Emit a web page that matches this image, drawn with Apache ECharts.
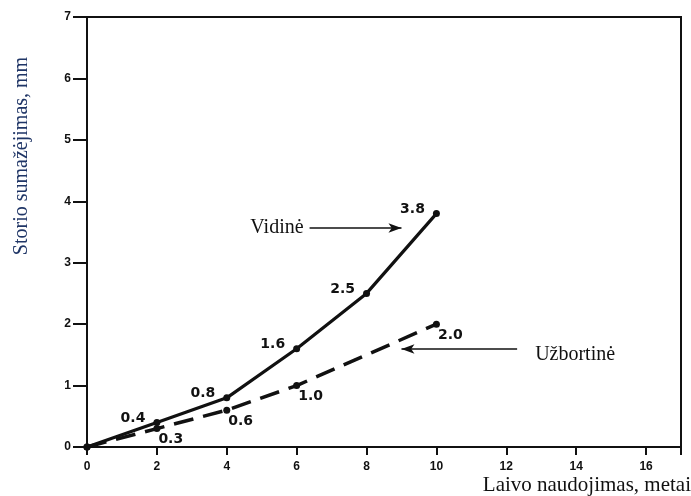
<!DOCTYPE html>
<html>
<head>
<meta charset="utf-8">
<script src="https://cdn.jsdelivr.net/npm/echarts@6/dist/echarts.min.js"></script>
<style>
  html, body { margin: 0; padding: 0; background: #fff; }
  #chart { width: 691px; height: 496px; }
</style>
</head>
<body>
<div id="chart"></div>
<script>
// Wall thickness loss over years of ship service
const years = [0, 2, 4, 6, 8, 10];
const vidine = [0, 0.4, 0.8, 1.6, 2.5, 3.8];            // inner side
const uzbortYears = [0, 2, 4, 6, 10];
const uzbortine = [0, 0.3, 0.6, 1.0, 2.0];             // outboard side

const xAxisTitle = 'Laivo naudojimas, metai';
const yAxisTitle = 'Storio sumažėjimas, mm';
const nameVidine = 'Vidinė';
const nameUzbortine = 'Užbortinė';

// Pointer arrows next to the curve names (in axis units)
const arrowVidine = [[6.37, 3.565], [9.0, 3.565]];
const arrowUzbortine = [[12.31, 1.595], [9.0, 1.595]];

const pairs = (xs, ys) => xs.map((x, i) => [x, ys[i]]);
const valueLabel = p => (p.value[1] === 0 ? '' : p.value[1].toFixed(1));

const labelFont = {
  fontFamily: 'DejaVu Sans',
  fontWeight: 'bold',
  fontSize: 14,
  color: '#111'
};
const tickFont = {
  fontFamily: 'Liberation Sans',
  fontWeight: 'bold',
  fontSize: 12,
  color: '#111'
};
const nameFont = {
  fontFamily: 'Liberation Serif',
  fontSize: 20,
  color: '#111'
};

const chart = echarts.init(document.getElementById('chart'), null, { renderer: 'canvas' });

chart.setOption({
  animation: false,
  backgroundColor: '#fff',
  grid: {
    left: 87, right: 10, top: 17, bottom: 49,
    show: true, borderColor: '#111', borderWidth: 2, backgroundColor: 'transparent'
  },
  xAxis: {
    type: 'value', min: 0, max: 17, interval: 2,
    axisLine: { lineStyle: { color: '#111', width: 2 } },
    axisTick: { show: true, length: 8, lineStyle: { color: '#111', width: 2 } },
    axisLabel: Object.assign({ margin: 14, formatter: v => (v > 16 ? '' : String(v)) }, tickFont),
    splitLine: { show: false }
  },
  yAxis: {
    type: 'value', min: 0, max: 7, interval: 1,
    axisLine: { show: true, lineStyle: { color: '#111', width: 2 } },
    axisTick: { show: true, length: 14, lineStyle: { color: '#111', width: 2 } },
    axisLabel: Object.assign({ margin: 16 }, tickFont),
    splitLine: { show: false }
  },
  series: [
    {
      name: nameVidine,
      type: 'line',
      data: pairs(years, vidine),
      symbol: 'circle',
      symbolSize: 7,
      itemStyle: { color: '#111' },
      lineStyle: { color: '#111', width: 3.2 },
      label: Object.assign({
        show: true, position: 'left', distance: 8, offset: [0, -4],
        formatter: valueLabel
      }, labelFont),
      markLine: {
        silent: true,
        symbol: ['none', 'arrow'],
        symbolSize: [7, 13],
        lineStyle: { type: 'solid', color: '#111', width: 1.6 },
        label: Object.assign({
          show: true, position: 'start', distance: 6, formatter: nameVidine
        }, nameFont),
        data: [[{ coord: arrowVidine[0] }, { coord: arrowVidine[1] }]]
      }
    },
    {
      name: nameUzbortine,
      type: 'line',
      data: pairs(uzbortYears, uzbortine),
      symbol: 'circle',
      symbolSize: 7,
      itemStyle: { color: '#111' },
      lineStyle: { color: '#111', width: 3.5, type: [20, 10] },
      label: Object.assign({
        show: true, position: 'right', distance: 0, offset: [-2, 11],
        formatter: valueLabel
      }, labelFont),
      markLine: {
        silent: true,
        symbol: ['none', 'arrow'],
        symbolSize: [7, 13],
        lineStyle: { type: 'solid', color: '#111', width: 1.6 },
        label: Object.assign({
          show: true, position: 'start', distance: 18, offset: [0, 6], formatter: nameUzbortine
        }, nameFont),
        data: [[{ coord: arrowUzbortine[0] }, { coord: arrowUzbortine[1] }]]
      }
    }
  ],
  graphic: [
    {
      type: 'text',
      x: 22, y: 156,
      rotation: Math.PI / 2,
      style: {
        text: yAxisTitle,
        fontFamily: 'Liberation Serif',
        fontSize: 20,
        fill: '#1f3566',
        align: 'center',
        verticalAlign: 'middle'
      }
    },
    {
      type: 'text',
      x: 691, y: 485,
      style: {
        text: xAxisTitle,
        fontFamily: 'Liberation Serif',
        fontSize: 21,
        fill: '#111',
        align: 'right',
        verticalAlign: 'middle'
      }
    }
  ]
});
</script>
</body>
</html>
